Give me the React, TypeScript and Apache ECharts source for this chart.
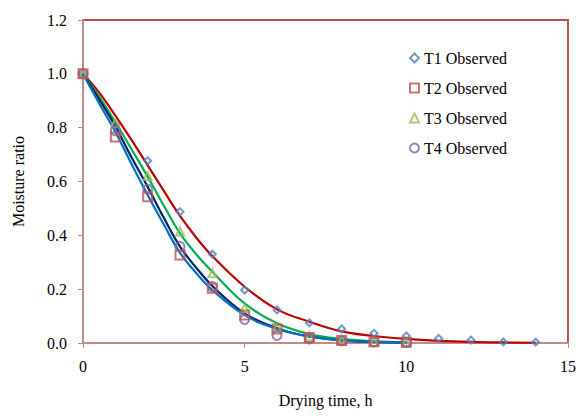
import React, { useEffect, useRef } from "react";
import * as echarts from "echarts";

// Observed drying data (hours, moisture ratio)
const obsTime = [0, 1, 2, 3, 4, 5, 6, 7, 8, 9, 10, 11, 12, 13, 14];
const t1Observed = [1.0, 0.81, 0.677, 0.488, 0.33, 0.197, 0.123, 0.075, 0.052, 0.036, 0.026, 0.017, 0.011, 0.004, 0.003];
const t2Time = [0, 1, 2, 3, 4, 5, 6, 7, 8, 9, 10];
const t2Observed = [1.0, 0.765, 0.543, 0.327, 0.203, 0.104, 0.052, 0.02, 0.009, 0.005, 0.003];
const t3Time = [0, 1, 2, 3, 4, 5, 6, 7, 8, 9, 10];
const t3Observed = [1.0, 0.818, 0.62, 0.414, 0.259, 0.129, 0.058, 0.025, 0.01, 0.005, 0.002];
const t4Time = [0, 1, 2, 3, 4, 5, 6, 7, 8, 9, 10];
const t4Observed = [1.0, 0.789, 0.571, 0.358, 0.21, 0.087, 0.028, 0.015, 0.008, 0.004, 0.003];

// Predicted (fitted) curves
const fitTimeLong = [0, 0.5, 1, 1.5, 2, 2.5, 3, 3.5, 4, 5, 6, 7, 8, 9, 10, 11, 12, 13, 14];
const redFit = [1.0, 0.93, 0.845, 0.755, 0.66, 0.565, 0.472, 0.392, 0.323, 0.209, 0.125, 0.079, 0.043, 0.026, 0.015, 0.008, 0.004, 0.002, 0.001];
const fitTime = [0, 0.5, 1, 1.5, 2, 2.5, 3, 3.5, 4, 5, 6, 7, 8, 9, 10];
const greenFit = [1.0, 0.915, 0.82, 0.72, 0.618, 0.51, 0.407, 0.33, 0.265, 0.147, 0.073, 0.033, 0.015, 0.006, 0.003];
const navyFit = [1.0, 0.905, 0.805, 0.69, 0.58, 0.465, 0.358, 0.28, 0.212, 0.11, 0.055, 0.024, 0.01, 0.004, 0.002];
const blueFit = [1.0, 0.89, 0.785, 0.665, 0.55, 0.44, 0.335, 0.26, 0.197, 0.104, 0.052, 0.024, 0.01, 0.004, 0.002];

const xTicks = { min: 0, max: 15, interval: 5 };
const yTicks = { min: 0, max: 1.2, interval: 0.2 };

const zip = (xs: number[], ys: number[]) => xs.map((x, i) => [x, ys[i]]);

const FONT = "'Liberation Serif', 'Times New Roman', serif";

export default function App() {
  const ref = useRef<HTMLDivElement>(null);
  useEffect(() => {
    if (!ref.current) return;
    const chart = echarts.init(ref.current, null, { renderer: "svg" });
    const lineSeries = (name: string, xs: number[], ys: number[], color: string) => ({
      name,
      type: "line",
      data: zip(xs, ys),
      smooth: 0.4,
      showSymbol: false,
      symbol: "none",
      lineStyle: { color, width: 2.2 },
      z: 2,
    });
    const obsSeries = (name: string, xs: number[], ys: number[], symbol: string, color: string, size: number) => ({
      name,
      type: "scatter",
      data: zip(xs, ys),
      symbol,
      symbolSize: size,
      itemStyle: { color: "rgba(255,255,255,0)", borderColor: color, borderWidth: 2 },
      z: 3,
    });
    chart.setOption({
      animation: false,
      backgroundColor: "#ffffff",
      textStyle: { fontFamily: FONT },
      grid: {
        left: 83,
        top: 20,
        width: 485,
        height: 323,
        outerBoundsMode: "none",
        containLabel: false,
        show: true,
        borderColor: "#C0504D",
        borderWidth: 2,
        backgroundColor: "transparent",
      },
      legend: {
        data: ["T1 Observed", "T2 Observed", "T3 Observed", "T4 Observed"],
        orient: "vertical",
        left: 404,
        top: 45,
        itemGap: 14,
        itemWidth: 9,
        itemHeight: 9,
        textStyle: { fontFamily: FONT, fontSize: 16, color: "#000" },
      },
      xAxis: {
        type: "value",
        min: xTicks.min,
        max: xTicks.max,
        interval: xTicks.interval,
        name: "Drying time, h",
        nameLocation: "middle",
        nameGap: 49,
        nameTextStyle: { fontFamily: FONT, fontSize: 16, color: "#000" },
        axisLine: { show: true, lineStyle: { color: "#C48A8A", width: 2 } },
        axisTick: { show: true, length: 5, lineStyle: { color: "#999999" } },
        axisLabel: { fontFamily: FONT, fontSize: 16, color: "#000", margin: 15 },
        splitLine: { show: false },
      },
      yAxis: {
        type: "value",
        min: yTicks.min,
        max: yTicks.max,
        interval: yTicks.interval,
        name: "Moisture ratio",
        nameLocation: "middle",
        nameGap: 57,
        nameTextStyle: { fontFamily: FONT, fontSize: 16, color: "#000" },
        axisLine: { show: true, lineStyle: { color: "#C48A8A", width: 2 } },
        axisTick: { show: true, length: 5, lineStyle: { color: "#999999" } },
        axisLabel: {
          fontFamily: FONT,
          fontSize: 16,
          color: "#000",
          margin: 16,
          formatter: (v: number) => v.toFixed(1),
        },
        splitLine: { show: false },
      },
      series: [
        lineSeries("T1 Predicted", fitTimeLong, redFit, "#C00000"),
        lineSeries("T3 Predicted", fitTime, greenFit, "#00B050"),
        lineSeries("T4 Predicted", fitTime, navyFit, "#002060"),
        lineSeries("T2 Predicted", fitTime, blueFit, "#0070C0"),
        obsSeries("T1 Observed", obsTime, t1Observed, "diamond", "#4F81BD", 7),
        obsSeries("T3 Observed", t3Time, t3Observed, "triangle", "#9BBB59", 8),
        obsSeries("T4 Observed", t4Time, t4Observed, "circle", "#8064A2", 9),
        obsSeries("T2 Observed", t2Time, t2Observed, "rect", "#C0504D", 9),
      ],
    });
    return () => chart.dispose();
  }, []);
  return (
    <div
      ref={ref}
      style={{ position: "fixed", left: 0, top: 0, width: 576, height: 416 }}
    />
  );
}
